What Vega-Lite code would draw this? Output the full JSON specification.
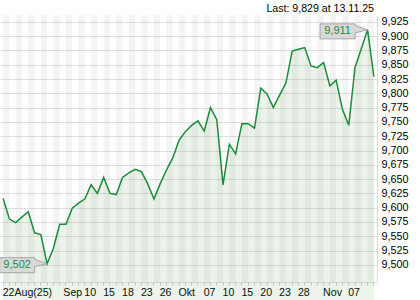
{
  "$schema": "https://vega.github.io/schema/vega-lite/v6.json",
  "width": 377,
  "height": 267,
  "autosize": {"type": "none"},
  "padding": {"left": 0, "top": 15, "right": 43, "bottom": 18},
  "background": "white",
  "config": {
    "locale": {"number": {"decimal": ",", "thousands": ".", "grouping": [3], "currency": ["", " €"]}},
    "view": {"stroke": null},
    "font": "Liberation Sans",
    "axisY": {
      "title": null,
      "orient": "right",
      "ticks": false,
      "domain": true,
      "domainColor": "#dcdcdc",
      "grid": true,
      "gridColor": "#e1e1e1",
      "labelOverlap": false,
      "labelFlush": false,
      "labelPadding": 4,
      "labelFontSize": 10.8,
      "labelFont": "Liberation Sans",
      "labelColor": "#000000"
    }
  },
  "title": {
    "text": "Last: 9,829 at 13.11.25",
    "anchor": "end",
    "frame": "group",
    "fontSize": 10.6,
    "fontWeight": "normal",
    "font": "Liberation Sans",
    "color": "#000000",
    "baseline": "bottom",
    "offset": -10,
    "dx": -3
  },
  "data": {
    "values": [
      {"date": "2025-08-22", "v": 9.616},
      {"date": "2025-08-25", "v": 9.580},
      {"date": "2025-08-26", "v": 9.574},
      {"date": "2025-08-27", "v": 9.584},
      {"date": "2025-08-28", "v": 9.593},
      {"date": "2025-08-29", "v": 9.556},
      {"date": "2025-09-01", "v": 9.553},
      {"date": "2025-09-02", "v": 9.502},
      {"date": "2025-09-03", "v": 9.529},
      {"date": "2025-09-04", "v": 9.571},
      {"date": "2025-09-05", "v": 9.571},
      {"date": "2025-09-08", "v": 9.599},
      {"date": "2025-09-09", "v": 9.608},
      {"date": "2025-09-10", "v": 9.615},
      {"date": "2025-09-11", "v": 9.640},
      {"date": "2025-09-12", "v": 9.625},
      {"date": "2025-09-15", "v": 9.653},
      {"date": "2025-09-16", "v": 9.625},
      {"date": "2025-09-17", "v": 9.623},
      {"date": "2025-09-18", "v": 9.653},
      {"date": "2025-09-19", "v": 9.661},
      {"date": "2025-09-22", "v": 9.667},
      {"date": "2025-09-23", "v": 9.663},
      {"date": "2025-09-24", "v": 9.642},
      {"date": "2025-09-25", "v": 9.615},
      {"date": "2025-09-26", "v": 9.642},
      {"date": "2025-09-29", "v": 9.666},
      {"date": "2025-09-30", "v": 9.687},
      {"date": "2025-10-01", "v": 9.718},
      {"date": "2025-10-02", "v": 9.733},
      {"date": "2025-10-03", "v": 9.744},
      {"date": "2025-10-06", "v": 9.752},
      {"date": "2025-10-07", "v": 9.734},
      {"date": "2025-10-08", "v": 9.775},
      {"date": "2025-10-09", "v": 9.754},
      {"date": "2025-10-10", "v": 9.640},
      {"date": "2025-10-13", "v": 9.711},
      {"date": "2025-10-14", "v": 9.694},
      {"date": "2025-10-15", "v": 9.747},
      {"date": "2025-10-16", "v": 9.747},
      {"date": "2025-10-17", "v": 9.739},
      {"date": "2025-10-20", "v": 9.809},
      {"date": "2025-10-21", "v": 9.799},
      {"date": "2025-10-22", "v": 9.775},
      {"date": "2025-10-23", "v": 9.797},
      {"date": "2025-10-24", "v": 9.818},
      {"date": "2025-10-27", "v": 9.874},
      {"date": "2025-10-28", "v": 9.877},
      {"date": "2025-10-29", "v": 9.880},
      {"date": "2025-10-30", "v": 9.848},
      {"date": "2025-10-31", "v": 9.845},
      {"date": "2025-11-03", "v": 9.854},
      {"date": "2025-11-04", "v": 9.813},
      {"date": "2025-11-05", "v": 9.823},
      {"date": "2025-11-06", "v": 9.772},
      {"date": "2025-11-07", "v": 9.744},
      {"date": "2025-11-10", "v": 9.845},
      {"date": "2025-11-11", "v": 9.878},
      {"date": "2025-11-12", "v": 9.911},
      {"date": "2025-11-13", "v": 9.829}
    ]
  },
  "encoding": {
    "x": {
      "field": "date",
      "type": "ordinal",
      "sort": "ascending",
      "scale": {"paddingInner": 0, "paddingOuter": 0},
      "axis": {
        "title": null,
        "orient": "bottom",
        "grid": false,
        "domain": true,
        "domainColor": "#dcdcdc",
        "ticks": true,
        "tickColor": "#c8c8c8",
        "tickSize": 3,
        "labelAngle": 0,
        "labelOverlap": false,
        "labelPadding": 2,
        "labelFontSize": 10.6,
        "labelFont": "Liberation Sans",
        "labelColor": "#000000",
        "labelAlign": "left",
        "labelExpr": "({'2025-08-22':'22Aug(25)','2025-09-01':'Sep','2025-09-10':'10','2025-09-15':'15','2025-09-18':'18','2025-09-23':'23','2025-09-26':'26','2025-10-01':'Okt','2025-10-07':'07','2025-10-10':'10','2025-10-15':'15','2025-10-20':'20','2025-10-23':'23','2025-10-28':'28','2025-11-03':'Nov','2025-11-07':'07'})[datum.value] || ''",
        "labelOffset": {"condition": {"test": "datum.value == '2025-09-01'", "value": 22.5}, "value": -0.5}
      }
    }
  },
  "layer": [
    {
      "transform": [
        {"window": [{"op": "row_number", "as": "rn"}], "sort": [{"field": "date", "order": "ascending"}]},
        {"filter": "datum.rn % 2 == 1"}
      ],
      "mark": {"type": "bar", "color": "#000000", "opacity": 0.045, "xOffset": 3.14}
    },
    {
      "mark": {"type": "area", "color": "#5a9a5a", "opacity": 0.12},
      "encoding": {
        "y": {
          "field": "v",
          "type": "quantitative",
          "scale": {"domain": [9.47, 9.937], "zero": false, "nice": false},
          "axis": {"values": [9.5, 9.525, 9.55, 9.575, 9.6, 9.625, 9.65, 9.675, 9.7, 9.725, 9.75, 9.775, 9.8, 9.825, 9.85, 9.875, 9.9, 9.925], "format": ".3f"}
        }
      }
    },
    {
      "mark": {"type": "line", "color": "#1c8b3b", "strokeWidth": 1.5},
      "encoding": {
        "y": {
          "field": "v",
          "type": "quantitative",
          "axis": {"values": [9.5, 9.525, 9.55, 9.575, 9.6, 9.625, 9.65, 9.675, 9.7, 9.725, 9.75, 9.775, 9.8, 9.825, 9.85, 9.875, 9.9, 9.925], "format": ".3f"}
        }
      }
    },
    {
      "transform": [
        {"joinaggregate": [{"op": "max", "field": "v", "as": "mx"}, {"op": "min", "field": "v", "as": "mn"}]},
        {"filter": "datum.v == datum.mx || datum.v == datum.mn"}
      ],
      "mark": {
        "type": "point",
        "shape": "M-47.5,-6H-12.5V-4.5L0,0L-12.5,3V9H-47.5Z",
        "size": 4,
        "filled": true,
        "fill": "#d9d9d9",
        "stroke": "#a6a6a6",
        "strokeWidth": 1,
        "opacity": 1
      },
      "encoding": {
        "y": {
          "field": "v",
          "type": "quantitative",
          "axis": {"values": [9.5, 9.525, 9.55, 9.575, 9.6, 9.625, 9.65, 9.675, 9.7, 9.725, 9.75, 9.775, 9.8, 9.825, 9.85, 9.875, 9.9, 9.925], "format": ".3f"}
        }
      }
    },
    {
      "transform": [
        {"joinaggregate": [{"op": "max", "field": "v", "as": "mx"}, {"op": "min", "field": "v", "as": "mn"}]},
        {"filter": "datum.v == datum.mx || datum.v == datum.mn"}
      ],
      "mark": {
        "type": "text",
        "dx": -30,
        "dy": 1.5,
        "align": "center",
        "baseline": "middle",
        "fontSize": 11,
        "font": "Liberation Sans",
        "color": "#1c8b3b"
      },
      "encoding": {
        "y": {
          "field": "v",
          "type": "quantitative",
          "axis": {"values": [9.5, 9.525, 9.55, 9.575, 9.6, 9.625, 9.65, 9.675, 9.7, 9.725, 9.75, 9.775, 9.8, 9.825, 9.85, 9.875, 9.9, 9.925], "format": ".3f"}
        },
        "text": {"field": "v", "type": "quantitative", "format": ".3f"}
      }
    }
  ]
}
